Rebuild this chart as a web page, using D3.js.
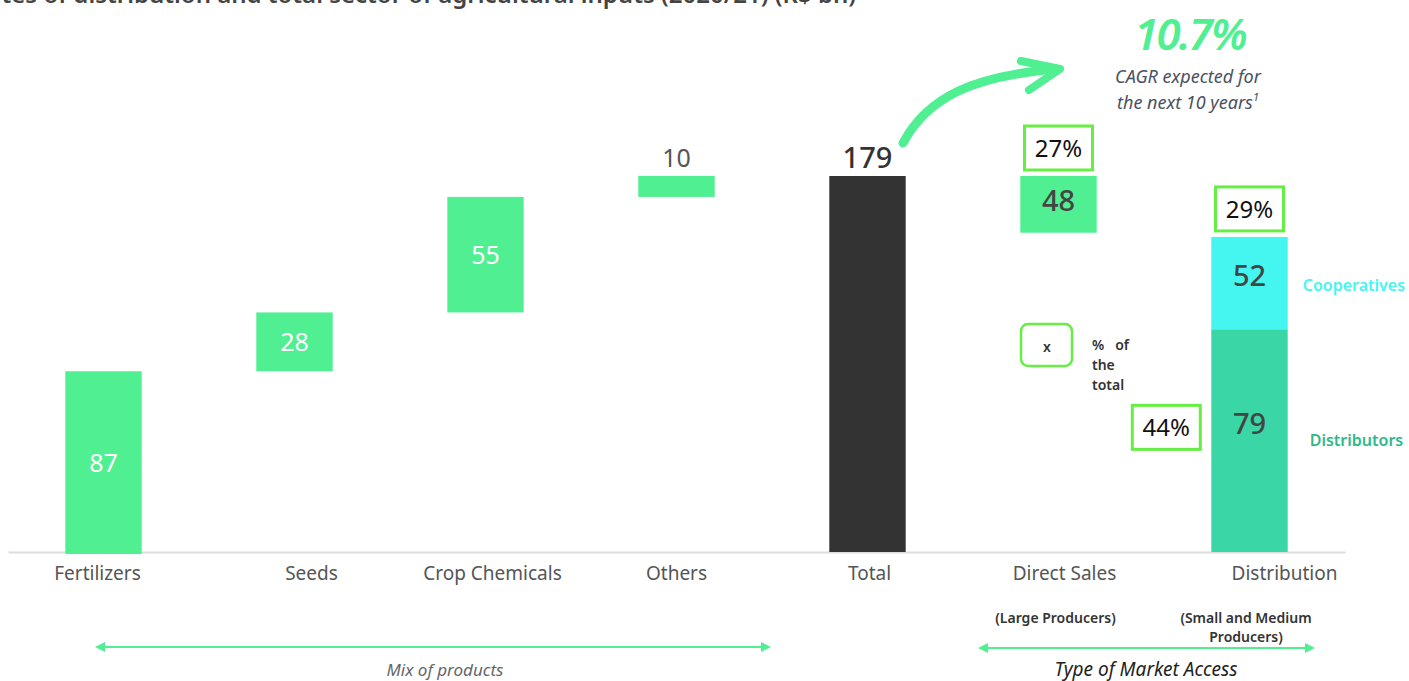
<!DOCTYPE html>
<html>
<head>
<meta charset="utf-8">
<script src="https://cdn.jsdelivr.net/npm/d3@7"></script>
<style>
  body { margin: 0; background: #fff; }
  svg { display: block; }
  .cat text { font-family: "Noto Sans", sans-serif; font-size: 19px; fill: #555; }
  .sub { font-family: "Noto Sans", sans-serif; font-size: 14px; font-weight: 600; fill: #333; }
</style>
</head>
<body>
<div id="svg-container"></div>
<script>
// ---------------- data ----------------
const categories = ["Fertilizers", "Seeds", "Crop Chemicals", "Others", "Total", "Direct Sales", "Distribution"];

// product mix (waterfall, R$ bn)
const mixCats = ["Fertilizers", "Seeds", "Crop Chemicals", "Others"];
const mixValues = [87, 28, 55, 10];
const totalValue = 179;

// market access breakdown (R$ bn), share of total and the span each bar covers on the value axis as drawn
const accessCats = ["Direct Sales", "Distribution", "Distribution"];
const accessNames = ["Direct", "Cooperatives", "Distributors"];
const accessValues = [48, 52, 79];
const accessShares = ["27%", "29%", "44%"];
const accessFrom = [152, 106, 0];
const accessTo = [179, 150, 106];

const width = 1409, height = 681;
const baseY = 552;

const svg = d3.select("#svg-container").append("svg")
  .attr("width", width).attr("height", height);

const green = "#50ef92", dark = "#333333", cyan = "#44f6ef", teal = "#3ad6a5", lime = "#66ee44";

// scales
const xScale = d3.scaleBand().domain(categories).range([8, 1345])
  .paddingInner(0.6).paddingOuter(0.3);
const yScale = d3.scaleLinear().domain([0, totalValue]).range([baseY, 176]);
const bw = xScale.bandwidth();
const cx = (c) => xScale(c) + bw / 2;

// title (cut off at top of the picture)
svg.append("text")
  .attr("x", -44).attr("y", 3)
  .attr("font-family", "Noto Sans, sans-serif")
  .attr("font-size", 24).attr("font-weight", 600).attr("fill", "#444")
  .text("Routes of distribution and total sector of agricultural inputs (2020/21) (R$ bn)");

// axis
const labelShift = { "Fertilizers": -6, "Seeds": 17, "Crop Chemicals": 7, "Total": 2, "Direct Sales": 6, "Distribution": 35 };
const xAxis = d3.axisBottom(xScale).tickSize(0).tickPadding(15);
const gx = svg.append("g").attr("class", "cat")
  .attr("transform", `translate(0,${baseY})`).call(xAxis);
gx.select(".domain").attr("stroke", "#dddddd").attr("stroke-width", 2);
gx.selectAll(".tick text").attr("dx", (d) => labelShift[d] || 0);

// waterfall
const starts = mixValues.map((v, i) => d3.sum(mixValues.slice(0, i)));
const mix = mixCats.map((c, i) => ({ cat: c, v: mixValues[i], s: starts[i] }));

svg.selectAll(".mix").data(mix).enter().append("rect")
  .attr("x", (d) => xScale(d.cat))
  .attr("y", (d) => yScale(d.s + d.v) + 2)
  .attr("width", bw)
  .attr("height", (d) => yScale(d.s) - yScale(d.s + d.v))
  .attr("fill", green);

svg.selectAll(".mixlab").data(mix).enter().append("text")
  .attr("x", (d) => cx(d.cat))
  .attr("y", (d) => d.v < 20 ? yScale(d.s + d.v) - 7 : (yScale(d.s) + yScale(d.s + d.v)) / 2 + 11)
  .attr("text-anchor", "middle")
  .attr("font-family", "Noto Sans, sans-serif")
  .attr("font-size", 25)
  .attr("fill", (d) => d.v < 20 ? "#555" : "#fff")
  .text((d) => d.v);

// total
svg.append("rect")
  .attr("x", xScale("Total")).attr("y", yScale(totalValue))
  .attr("width", bw).attr("height", baseY - yScale(totalValue))
  .attr("fill", dark);
svg.append("text")
  .attr("x", cx("Total")).attr("y", yScale(totalValue) - 8)
  .attr("text-anchor", "middle")
  .attr("font-family", "Noto Sans, sans-serif")
  .attr("font-size", 29).attr("font-weight", 500).attr("fill", dark)
  .text(totalValue);

// market access
const access = accessCats.map((c, i) => ({
  cat: c, name: accessNames[i], v: accessValues[i], share: accessShares[i],
  from: accessFrom[i], to: accessTo[i]
}));
const accessColor = d3.scaleOrdinal().domain(accessNames).range([green, cyan, teal]);

svg.selectAll(".acc").data(access).enter().append("rect")
  .attr("x", (d) => xScale(d.cat))
  .attr("y", (d) => yScale(d.to))
  .attr("width", bw)
  .attr("height", (d) => yScale(d.from) - yScale(d.to))
  .attr("fill", (d) => accessColor(d.name));

const labY = (d, i) => i === 2 ? yScale(d.to) + 106 : (yScale(d.from) + yScale(d.to)) / 2 + 8;

svg.selectAll(".acclab").data(access).enter().append("text")
  .attr("x", (d) => cx(d.cat))
  .attr("y", (d, i) => labY(d, i) - (i === 1 ? 5 : 1))
  .attr("text-anchor", "middle")
  .attr("font-family", "Noto Sans, sans-serif")
  .attr("font-size", 29).attr("font-weight", 500).attr("fill", "#444")
  .text((d) => d.v);

// share boxes
const boxW = 68, boxH = 44;
const boxPos = (d, i) => i < 2
  ? [cx(d.cat) - boxW / 2, yScale(d.to) - boxH - 6]
  : [xScale(d.cat) - boxW - 11, labY(d, i) - 30];

const boxes = svg.selectAll(".box").data(access).enter().append("g")
  .attr("transform", (d, i) => `translate(${boxPos(d, i)})`);
boxes.append("rect")
  .attr("width", boxW).attr("height", boxH)
  .attr("fill", "#fff").attr("stroke", lime).attr("stroke-width", 3);
boxes.append("text")
  .attr("x", boxW / 2).attr("y", boxH / 2 + 9)
  .attr("text-anchor", "middle")
  .attr("font-family", "Noto Sans, sans-serif")
  .attr("font-size", 24).attr("fill", "#111")
  .text((d) => d.share);

// side labels
svg.selectAll(".side").data(access.slice(1)).enter().append("text")
  .attr("x", (d, i) => xScale(d.cat) + bw + (i ? 22 : 15))
  .attr("y", (d, i) => (i ? labY(d, 2) + 11 : labY(d, 1)))
  .attr("font-family", "Noto Sans, sans-serif")
  .attr("font-size", 16).attr("font-weight", 600)
  .attr("fill", (d, i) => i ? "#2fb98a" : cyan)
  .text((d) => d.name);

// legend box
svg.append("rect")
  .attr("x", 1021).attr("y", 324).attr("width", 51).attr("height", 42).attr("rx", 7)
  .attr("fill", "#fff").attr("stroke", lime).attr("stroke-width", 2.5);
svg.append("text").attr("x", 1047).attr("y", 352).attr("text-anchor", "middle")
  .attr("class", "sub").text("x");
["%   of", "the", "total"].forEach((t, i) => {
  svg.append("text").attr("x", 1092).attr("y", 350 + i * 20).attr("class", "sub")
    .attr("xml:space", "preserve").style("white-space", "pre").text(t);
});

// CAGR annotation
svg.append("path")
  .attr("d", "M903,143 C928,96 975,76 1056,69")
  .attr("fill", "none").attr("stroke", green).attr("stroke-width", 9).attr("stroke-linecap", "round");
svg.append("path")
  .attr("d", "M1021,61 L1060,69 L1029,90")
  .attr("fill", "none").attr("stroke", green).attr("stroke-width", 8)
  .attr("stroke-linecap", "round").attr("stroke-linejoin", "round");

svg.append("text").attr("x", 1190).attr("y", 50).attr("text-anchor", "middle")
  .attr("font-family", "Noto Sans, sans-serif").attr("font-size", 44)
  .attr("font-style", "italic").attr("font-weight", 600).attr("fill", green)
  .attr("letter-spacing", -2)
  .text("10.7%");
svg.append("text").attr("x", 1188).attr("y", 83).attr("text-anchor", "middle")
  .attr("font-family", "Noto Sans, sans-serif").attr("font-size", 18)
  .attr("font-style", "italic").attr("fill", "#4a5163")
  .text("CAGR expected for");
const t2 = svg.append("text").attr("x", 1188).attr("y", 109).attr("text-anchor", "middle")
  .attr("font-family", "Noto Sans, sans-serif").attr("font-size", 18)
  .attr("font-style", "italic").attr("fill", "#4a5163")
  .text("the next 10 years");
t2.append("tspan").attr("font-size", 11).attr("dy", -8).text("1");

// bottom annotations
const defs = svg.append("defs");
["s", "e"].forEach((k) => {
  defs.append("marker").attr("id", "arr-" + k)
    .attr("viewBox", "0 0 10 10").attr("refX", 5).attr("refY", 5)
    .attr("markerWidth", 5).attr("markerHeight", 7).attr("markerUnits", "strokeWidth")
    .attr("orient", "auto-start-reverse")
    .append("path").attr("d", "M0,0 L10,5 L0,10 Z").attr("fill", green);
});

const brackets = [
  { x1: 100, x2: 766, y: 647, text: "Mix of products", tx: 445, color: "#666" },
  { x1: 983, x2: 1310, y: 648, text: "Type of Market Access", tx: 1146, color: "#222" }
];
brackets.forEach((b) => {
  svg.append("line").attr("x1", b.x1).attr("x2", b.x2).attr("y1", b.y).attr("y2", b.y)
    .attr("stroke", green).attr("stroke-width", 2)
    .attr("marker-start", "url(#arr-s)").attr("marker-end", "url(#arr-e)");
  svg.append("text").attr("x", b.tx).attr("y", 676).attr("text-anchor", "middle")
    .attr("font-family", "Noto Sans, sans-serif").attr("font-size", b.color === "#666" ? 17 : 19)
    .attr("font-style", "italic").attr("fill", b.color)
    .text(b.text);
});

svg.append("text").attr("class", "sub").attr("x", cx("Direct Sales") - 3).attr("y", 623)
  .attr("text-anchor", "middle").text("(Large Producers)");
svg.append("text").attr("class", "sub").attr("x", 1246).attr("y", 623)
  .attr("text-anchor", "middle").text("(Small and Medium");
svg.append("text").attr("class", "sub").attr("x", 1246).attr("y", 642)
  .attr("text-anchor", "middle").text("Producers)");
</script>
</body>
</html>
